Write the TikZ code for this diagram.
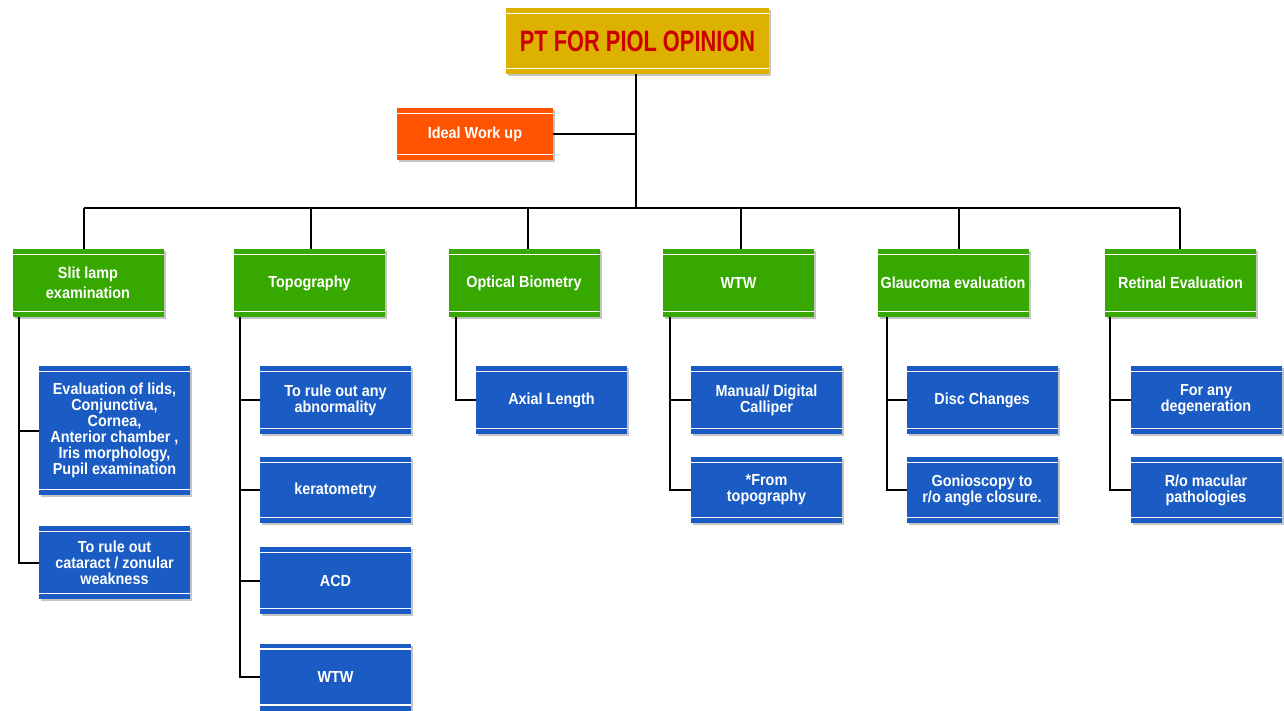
\documentclass[tikz,border=0pt]{standalone}
\usepackage{fontspec}
\usetikzlibrary{shadows}
\newfontfamily\bodyfont[FakeStretch=0.9]{Liberation Sans}
\newfontfamily\titlefont[FakeStretch=0.74]{Liberation Sans}
\definecolor{gold}{HTML}{DDB100}
\definecolor{titlered}{HTML}{CC0000}
\definecolor{orangebox}{HTML}{FF5300}
\definecolor{greenbox}{HTML}{37A800}
\definecolor{bluebox}{HTML}{1A5CC4}
\tikzset{
  box/.style={rectangle, inner sep=0pt, outer sep=0pt, align=center, text=white,
    font=\bodyfont\bfseries\fontsize{16}{16}\selectfont,
    drop shadow={shadow xshift=2pt, shadow yshift=-2pt, fill=black!45, opacity=.5},
    path picture={
      \draw[white, line width=1.3pt] ([yshift=-5.5pt]path picture bounding box.north west) -- ([yshift=-5.5pt]path picture bounding box.north east);
      \draw[white, line width=1.3pt] ([yshift=5.5pt]path picture bounding box.south west) -- ([yshift=5.5pt]path picture bounding box.south east);
    }},
  titlebox/.style={box, fill=gold, minimum width=263pt, minimum height=66pt, text=titlered,
    font=\titlefont\bfseries\fontsize{29.5}{29.5}\selectfont},
  orangebx/.style={box, fill=orangebox, minimum width=156pt, minimum height=52pt},
  greenbx/.style={box, fill=greenbox, minimum width=151pt, minimum height=68pt},
  bluebx/.style={box, fill=bluebox, minimum width=151pt, minimum height=#1},
  bluebx/.default=68pt,
  conn/.style={draw=black, line width=2pt},
}
\begin{document}
\begin{tikzpicture}[x=1pt, y=-1pt]
\useasboundingbox (0,0) rectangle (1284,710);

\node[titlebox] (title) at (637.5,41) {PT FOR PIOL OPINION};
\node[orangebx] (ideal) at (475,134) {Ideal Work up};

\node[greenbx] (sl) at (88,283) {Slit lamp\\[4pt]examination};
\node[greenbx] (topo) at (309.5,283) {Topography};
\node[greenbx] (ob) at (524,283) {Optical Biometry};
\node[greenbx] (wtw) at (738.5,283) {WTW};
\node[greenbx] (gl) at (953,283) {Glaucoma evaluation};
\node[greenbx] (ret) at (1180.5,283) {Retinal Evaluation};

% slit lamp children
\node[bluebx=129pt] (sl1) at (114.5,430.5) {Evaluation of lids,\\Conjunctiva,\\Cornea,\\Anterior chamber ,\\Iris morphology,\\Pupil examination};
\node[bluebx=73pt] (sl2) at (114.5,562.5) {To rule out\\cataract / zonular\\weakness};
% topography children
\node[bluebx] (tp1) at (335.5,400) {To rule out any\\abnormality};
\node[bluebx=66pt] (tp2) at (335.5,490) {keratometry};
\node[bluebx=67pt] (tp3) at (335.5,580.5) {ACD};
\node[bluebx=67pt] (tp4) at (335.5,677) {WTW};
% optical biometry
\node[bluebx] (ob1) at (551.5,400) {Axial Length};
% WTW
\node[bluebx] (w1) at (766.5,400) {Manual/ Digital\\Calliper};
\node[bluebx=66pt] (w2) at (766.5,490) {*From\\topography};
% glaucoma
\node[bluebx] (g1) at (982,400) {Disc Changes};
\node[bluebx=66pt] (g2) at (982,490) {Gonioscopy to\\r/o angle closure.};
% retinal
\node[bluebx] (r1) at (1206,400) {For any\\degeneration};
\node[bluebx=66pt] (r2) at (1206,490) {R/o macular\\pathologies};

% trunk
\coordinate (hub) at (636,208);
\coordinate (busL) at (84,208);
\coordinate (busR) at (1180,208);
\draw[conn] ([xshift=-1.5pt]title.south) -- (hub);
\draw[conn] (ideal.east) -- (ideal.east -| hub);
\draw[conn] (busL) -- (busR);
\coordinate (d1) at (84,208);
\coordinate (d2) at (311,208);
\coordinate (d3) at (528,208);
\coordinate (d4) at (741,208);
\coordinate (d5) at (959,208);
\coordinate (d6) at (1180,208);
\draw[conn] (d1) -- (d1 |- sl.north);
\draw[conn] (d2) -- (d2 |- topo.north);
\draw[conn] (d3) -- (d3 |- ob.north);
\draw[conn] (d4) -- (d4 |- wtw.north);
\draw[conn] (d5) -- (d5 |- gl.north);
\draw[conn] (d6) -- (d6 |- ret.north);

% child connectors
\draw[conn] ([xshift=6pt]sl.south west) |- (sl1.west);
\draw[conn] ([xshift=6pt]sl.south west) |- (sl2.west);
\draw[conn] ([xshift=6pt]topo.south west) |- (tp1.west);
\draw[conn] ([xshift=6pt]topo.south west) |- (tp2.west);
\draw[conn] ([xshift=6pt]topo.south west) |- (tp3.west);
\draw[conn] ([xshift=6pt]topo.south west) |- (tp4.west);
\draw[conn] ([xshift=7pt]ob.south west) |- (ob1.west);
\draw[conn] ([xshift=7pt]wtw.south west) |- (w1.west);
\draw[conn] ([xshift=7pt]wtw.south west) |- (w2.west);
\draw[conn] ([xshift=9pt]gl.south west) |- (g1.west);
\draw[conn] ([xshift=9pt]gl.south west) |- (g2.west);
\draw[conn] ([xshift=5pt]ret.south west) |- (r1.west);
\draw[conn] ([xshift=5pt]ret.south west) |- (r2.west);
\end{tikzpicture}
\end{document}
